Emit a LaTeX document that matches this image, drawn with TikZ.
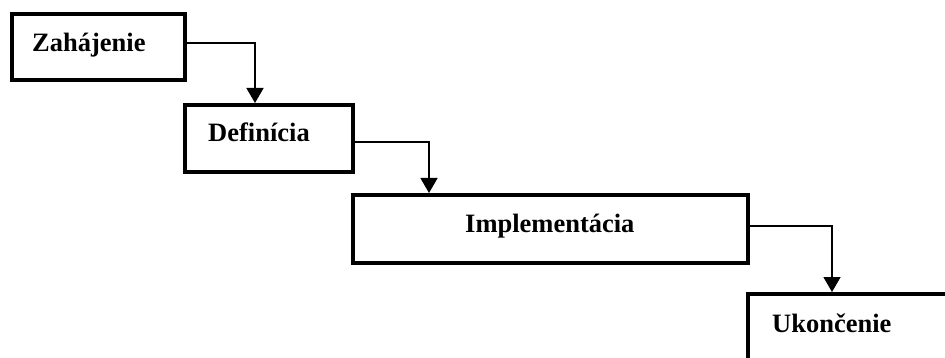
\documentclass[tikz,border=0pt]{standalone}
\usepackage{fontspec}
\setmainfont{Liberation Serif}
\usetikzlibrary{arrows.meta}
\tikzset{
  box/.style={draw=black, line width=4pt, rectangle, inner sep=0pt},
  lbl/.style={anchor=base west, inner sep=0pt, font=\fontsize{26.5}{30}\selectfont\bfseries},
  conn/.style={draw=black, line width=1.5pt, -{Triangle[width=17pt,length=15pt]}}
}
\begin{document}
\begin{tikzpicture}[x=1pt,y=-1pt]
\useasboundingbox (0,0) rectangle (945,358);
\clip (0,0) rectangle (945,358);
\fill[white] (0,0) rectangle (945,358);
\node[box, minimum width=173pt, minimum height=65.5pt] (b1) at (98.5,47.25) {};
\node[box, minimum width=168pt, minimum height=67pt] (b2) at (269,138.5) {};
\node[box, minimum width=395pt, minimum height=68pt] (b3) at (550.5,229) {};
\node[box, minimum width=250pt, minimum height=100pt] (b4) at (873,344) {};
\node[lbl] (t1) at (32,52) {Zahájenie};
\node[lbl] (t2) at (208,142) {Definícia};
\node[lbl] (t3) at (465,233) {Implementácia};
\node[lbl] (t4) at (772,332) {Ukončenie};
\coordinate (p1) at (255,43);
\coordinate (p2) at (429,142);
\coordinate (p3) at (832,226);
\draw[conn] (b1.east |- p1) -| (b2.north -| p1);
\draw[conn] (b2.east |- p2) -| (b3.north -| p2);
\draw[conn] (b3.east |- p3) -| (b4.north -| p3);
\end{tikzpicture}
\end{document}
